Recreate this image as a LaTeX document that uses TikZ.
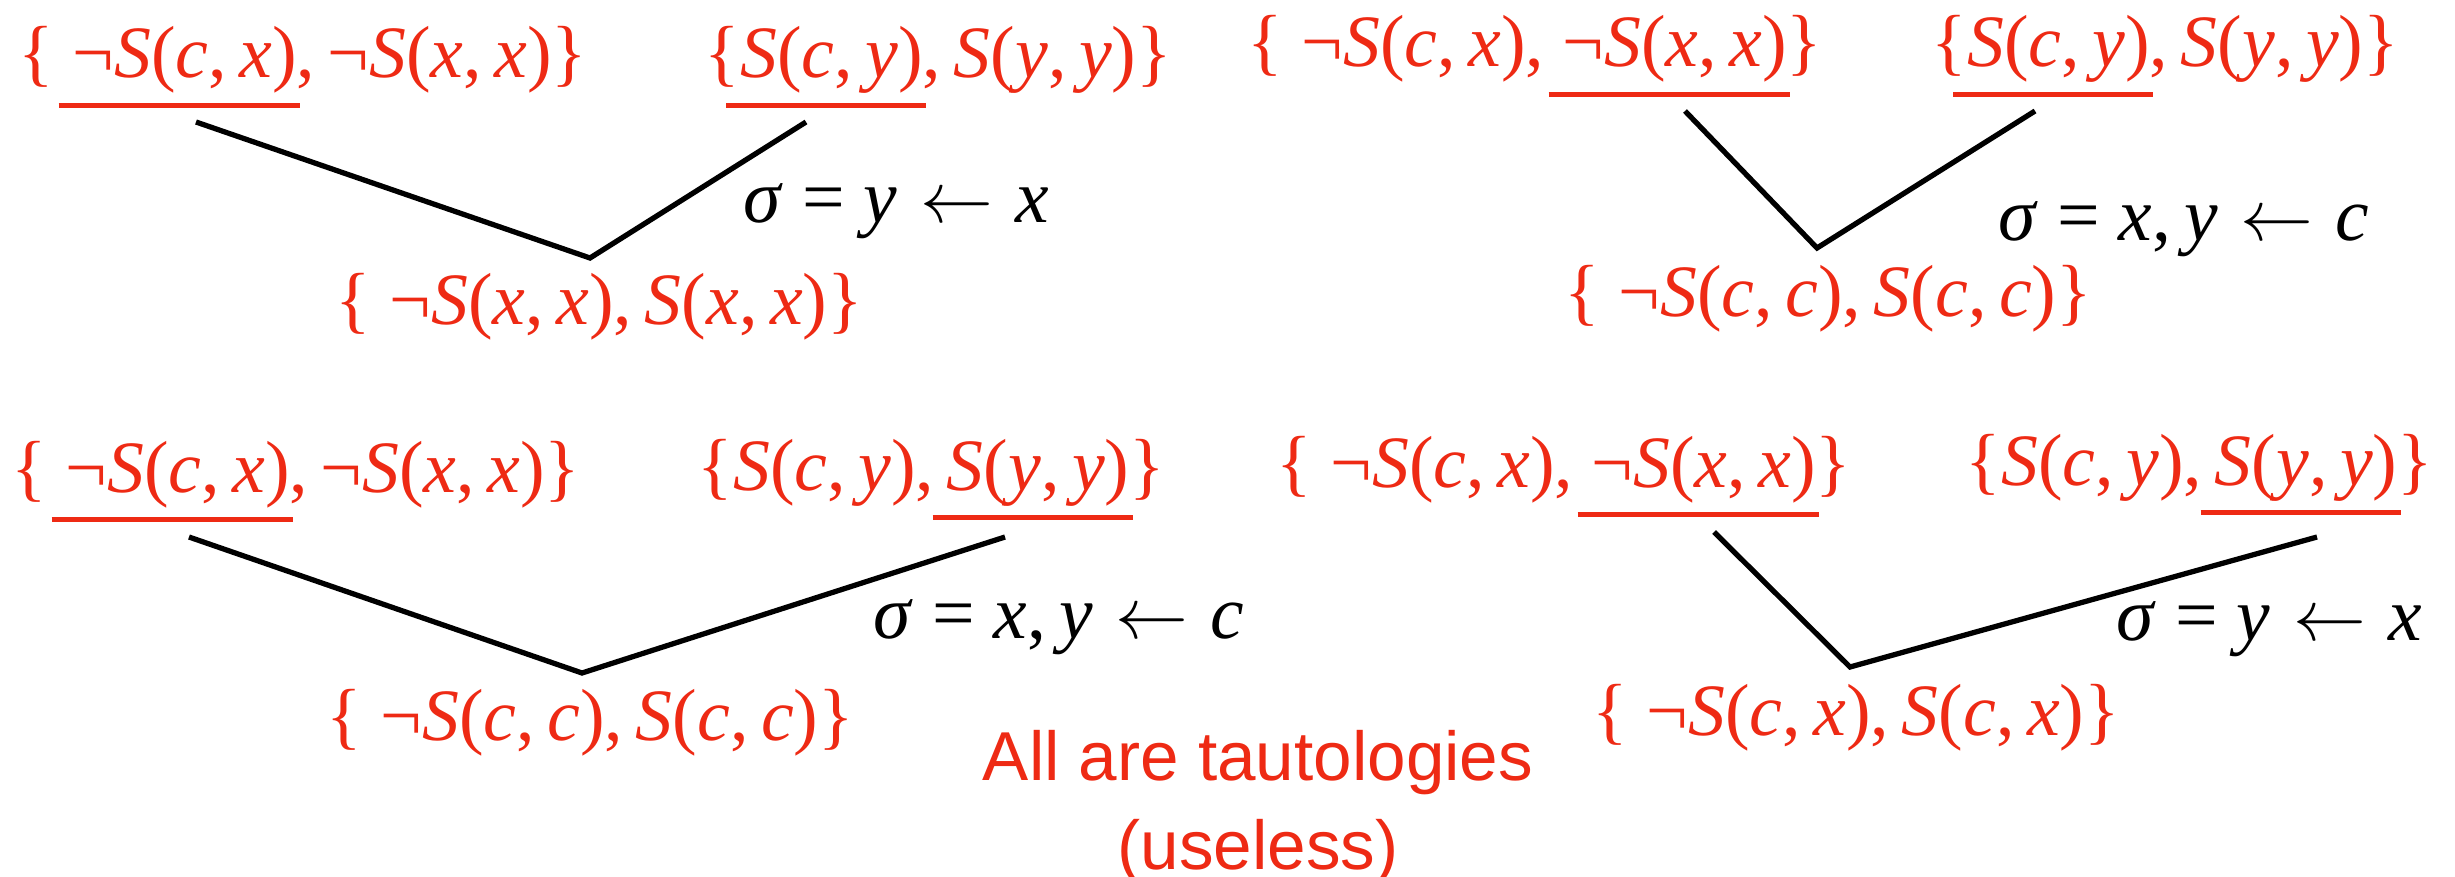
\documentclass[tikz,border=0pt]{standalone}
\usepackage{fontspec}
\setmainfont{Liberation Serif}
\newfontfamily\sansf{Liberation Sans}
\definecolor{kred}{HTML}{EE2A14}
\newcommand\mi[1]{\textit{#1}}
\newcommand\cm{,\kern.17em\relax}
\newcommand\larr{\kern.05em$\leftarrow$\kern.05em}
\newcommand\ulr[1]{\setbox0=\hbox{#1}\rlap{\kern-4pt\rule[-8.4pt]{\dimexpr\wd0+5pt\relax}{1.25pt}}\box0}
\tikzset{
  clause/.style={text=kred, inner sep=0pt, anchor=base west, font=\fontsize{21}{24}\selectfont},
  subst/.style={text=black, inner sep=0pt, anchor=base west, font=\fontsize{21.5}{24}\selectfont},
  conn/.style={draw=black, line width=1.5pt},
  note/.style={text=kred, inner sep=0pt, anchor=north, align=center, font=\sansf\fontsize{19.7}{25.2}\selectfont}
}
\begin{document}
\begin{tikzpicture}[x=0.1mm, y=-0.1mm]
\useasboundingbox (0,0) rectangle (2455,877);
% top-left
\node[clause] (tlA) at (18,78) {\{ \ulr{¬\mi{S}(\mi{c}\cm\mi{x})}\cm¬\mi{S}(\mi{x}\cm\mi{x})\}};
\node[clause] (tlB) at (704,78) {\{\ulr{\mi{S}(\mi{c}\cm\mi{y})}\cm\mi{S}(\mi{y}\cm\mi{y})\}};
\node[clause] (tlR) at (335,324) {\{ ¬\mi{S}(\mi{x}\cm\mi{x})\cm\mi{S}(\mi{x}\cm\mi{x})\}};
\node[subst] (tlS) at (743,223) {\mi{σ} = \mi{y} \larr{} \mi{x}};
\coordinate (a1) at (196,122);
\coordinate (v1) at (590,258);
\coordinate (b1) at (806,122);
\draw[conn] (a1) -- (v1) -- (b1);
% top-right
\node[clause] (trA) at (1247,67) {\{ ¬\mi{S}(\mi{c}\cm\mi{x}), \ulr{¬\mi{S}(\mi{x}\cm\mi{x})}\}};
\node[clause] (trB) at (1931,67) {\{\ulr{\mi{S}(\mi{c}\cm\mi{y})}\cm\mi{S}(\mi{y}\cm\mi{y})\}};
\node[clause] (trR) at (1564,316) {\{ ¬\mi{S}(\mi{c}\cm\mi{c})\cm\mi{S}(\mi{c}\cm\mi{c})\}};
\node[subst] (trS) at (1998,240) {\mi{σ} = \mi{x}\cm\mi{y} \larr{} \mi{c}};
\coordinate (a2) at (1685,111);
\coordinate (v2) at (1817,248);
\coordinate (b2) at (2035,111);
\draw[conn] (a2) -- (v2) -- (b2);
% bottom-left
\node[clause] (blA) at (11,492) {\{ \ulr{¬\mi{S}(\mi{c}\cm\mi{x})}\cm¬\mi{S}(\mi{x}\cm\mi{x})\}};
\node[clause] (blB) at (697,490) {\{\mi{S}(\mi{c}\cm\mi{y})\cm\ulr{\mi{S}(\mi{y}\cm\mi{y})}\}};
\node[clause] (blR) at (326,740) {\{ ¬\mi{S}(\mi{c}\cm\mi{c})\cm\mi{S}(\mi{c}\cm\mi{c})\}};
\node[subst] (blS) at (873,638) {\mi{σ} = \mi{x}\cm\mi{y} \larr{} \mi{c}};
\coordinate (a3) at (189,537);
\coordinate (v3) at (582,673);
\coordinate (b3) at (1005,537);
\draw[conn] (a3) -- (v3) -- (b3);
% bottom-right
\node[clause] (brA) at (1276,487) {\{ ¬\mi{S}(\mi{c}\cm\mi{x}), \ulr{¬\mi{S}(\mi{x}\cm\mi{x})}\}};
\node[clause] (brB) at (1965,485) {\{\mi{S}(\mi{c}\cm\mi{y})\cm\ulr{\mi{S}(\mi{y}\cm\mi{y})}\}};
\node[clause] (brR) at (1592,735) {\{ ¬\mi{S}(\mi{c}\cm\mi{x})\cm\mi{S}(\mi{c}\cm\mi{x})\}};
\node[subst] (brS) at (2116,640) {\mi{σ} = \mi{y} \larr{} \mi{x}};
\coordinate (a4) at (1714,532);
\coordinate (v4) at (1850,667);
\coordinate (b4) at (2317,537);
\draw[conn] (a4) -- (v4) -- (b4);
% note
\node[note] (note) at (1258,730) {All are tautologies\\(useless)};
\end{tikzpicture}
\end{document}
